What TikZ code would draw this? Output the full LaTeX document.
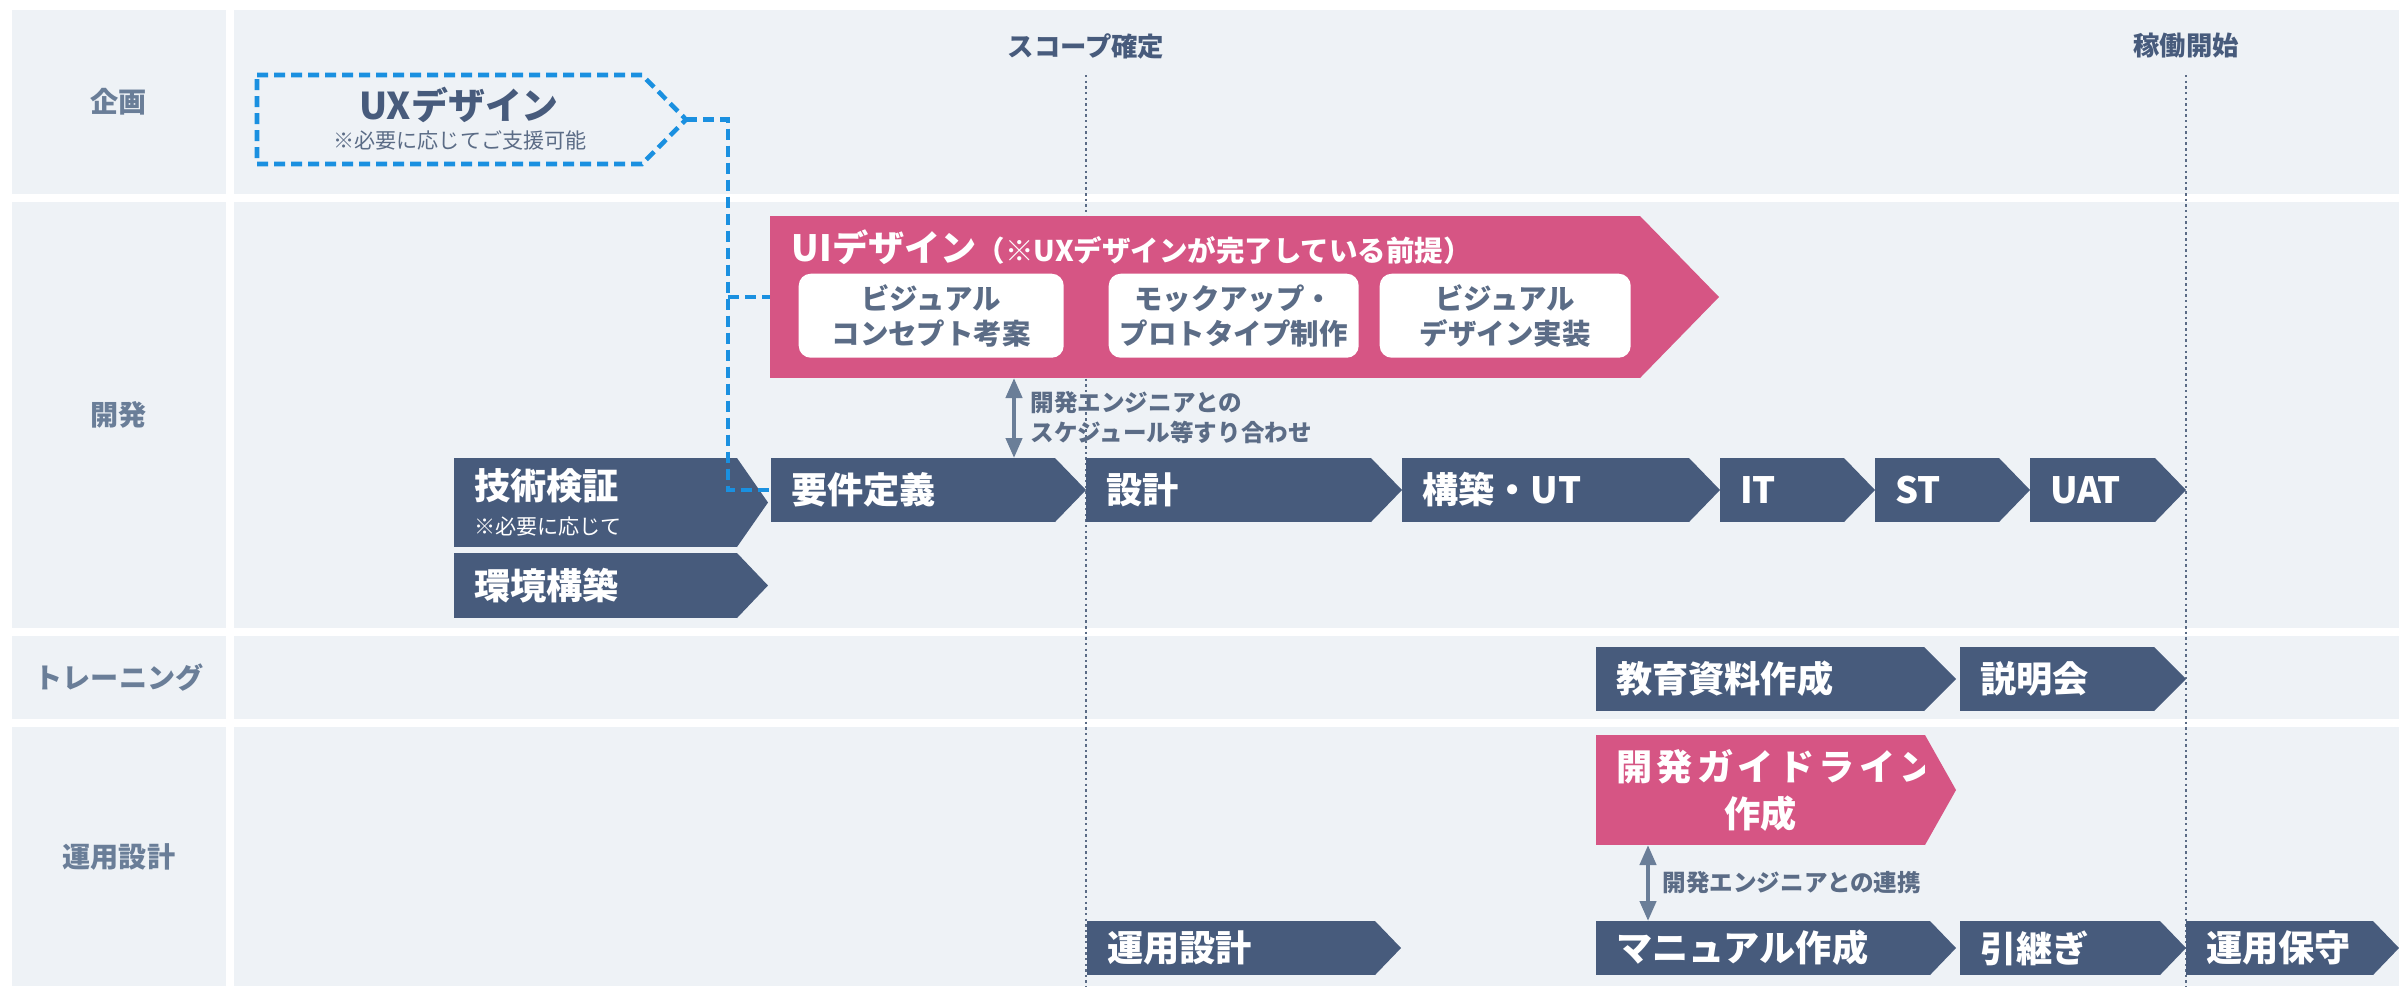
\documentclass[tikz,border=0pt]{standalone}
\usepackage{fontspec}
\setmainfont{Noto Sans CJK JP}
\usetikzlibrary{arrows.meta, positioning, calc}

\definecolor{cellbg}{HTML}{EEF2F6}
\definecolor{navy}{HTML}{475B7C}
\definecolor{rose}{HTML}{D65584}
\definecolor{uxblue}{HTML}{1A90E0}
\definecolor{lanegray}{HTML}{6A7E98}
\definecolor{inkgray}{HTML}{5B6C86}

\newcommand{\fsz}[2]{\fontsize{#1}{#2}\selectfont}

\begin{document}
\begin{tikzpicture}[
    cell/.style={fill=cellbg, anchor=north west, inner sep=0pt, outer sep=0pt},
    lane/.style={cell, minimum width=2.14cm, text=lanegray, font=\bfseries\fsz{8}{10}},
    phase/.style={anchor=north west, fill=navy, text=white, inner xsep=2mm, inner ysep=0pt,
        outer sep=0pt, minimum height=6.4mm, align=left, font=\bfseries\fsz{10.3}{12}},
    opsphase/.style={phase, minimum height=5.4mm},
    sub/.style={fill=white, rounded corners=1.2mm, minimum width=#1, minimum height=8.4mm,
        anchor=north west, inner sep=0pt, text=inkgray, align=center, font=\bfseries\fsz{8.1}{10}},
    milestone/.style={text=navy, font=\bfseries\fsz{7.5}{9}},
    gate/.style={draw=inkgray, line width=0.5pt, dash pattern=on 0.7pt off 0.9pt},
    sync/.style={draw=lanegray, line width=1.2pt,
        {Triangle[length=2mm, width=1.6mm]}-{Triangle[length=2mm, width=1.6mm]}},
    note/.style={anchor=west, inner sep=0pt, text=inkgray, align=left, font=\bfseries\fsz{6.7}{8.3}},
    uxline/.style={draw=uxblue, line width=1.3pt, dash pattern=on 1.1mm off 0.6mm},
]
  \useasboundingbox (0,0) rectangle (23.99,-9.86);
  \fill[white] (0,0) rectangle (23.99,-9.86);
  \coordinate (rim) at (23.99,0);
  \coordinate (floor) at (0,-9.86);

  % lanes
  \node[lane, minimum height=1.84cm] (plan) at (0.12,-0.10) {企画};
  \node[lane, minimum height=4.26cm] (dev) at (0.12,-2.02) {開発};
  \node[lane, minimum height=0.83cm] (train) at (0.12,-6.36) {トレーニング};
  \node[lane, minimum height=2.59cm] (ops) at (0.12,-7.27) {運用設計};
  \foreach \r in {plan, dev, train, ops}
    \fill[cellbg] ([xshift=0.08cm]\r.north east) rectangle (\r.south -| rim);

  % milestones
  \node[milestone] (scope) at (10.86,-0.46) {スコープ確定};
  \node[milestone] (golive) at (21.86,-0.46) {稼働開始};
  \draw[gate] ([yshift=-0.29cm]scope.center) -- (scope |- floor);
  \draw[gate] ([yshift=-0.29cm]golive.center) -- (golive |- floor);

  % UX design
  \node[anchor=north west, minimum width=3.85cm, minimum height=0.89cm, inner sep=0pt, outer sep=0pt] (ux) at (2.57,-0.75) {};
  \draw[uxline] (ux.north west) -- (ux.north east) -- ++(0.44,-0.445) coordinate (uxtip)
    -- (ux.south east) -- (ux.south west) -- cycle;
  \node[text=navy, font=\bfseries\fsz{10.5}{12}] (uxtitle) at (4.59,-1.05) {UXデザイン};
  \node[text=inkgray, font=\fsz{6}{7}] (uxnote) at (4.60,-1.40) {※必要に応じてご支援可能};

  % UI design
  \node[phase, fill=rose, minimum width=8.70cm, minimum height=1.62cm] (ui) at (7.70,-2.16) {};
  \node[anchor=west, text=white, font=\bfseries\fsz{10.3}{12}, inner sep=0pt] (uititle) at (7.91,-2.47)
    {UIデザイン{\fsz{8.1}{9}（※UXデザインが完了している前提）}};
  \node[sub=2.65cm] (concept) at (7.98,-2.73) {ビジュアル\\コンセプト考案};
  \node[sub=2.50cm] (mockup) at (11.08,-2.73) {モックアップ・\\プロトタイプ制作};
  \node[sub=2.51cm] (visual) at (13.79,-2.73) {ビジュアル\\デザイン実装};

  % development
  \node[phase, minimum height=8.9mm, text width=2.43cm] (gijutsu) at (4.54,-4.58)
    {技術検証\\[-2pt]{\mdseries\fsz{6}{7}※必要に応じて}};
  \node[phase, minimum height=6.5mm, text width=2.43cm] (kankyo) at (4.54,-5.53) {環境構築};
  \node[phase, text width=2.44cm] (youken) at (7.71,-4.58) {要件定義};
  \node[phase, text width=2.45cm, right=3.1mm of youken] (sekkei) {設計};
  \node[phase, text width=2.47cm, right=3.1mm of sekkei] (kouchiku) {構築・UT};
  \node[phase, text width=0.84cm, right=3.1mm of kouchiku] (it) {IT};
  \node[phase, text width=0.84cm, right=3.1mm of it] (st) {ST};
  \node[phase, text width=0.85cm, right=3.1mm of st] (uat) {UAT};

  % training
  \node[phase, text width=2.88cm] (kyouiku) at (15.96,-6.47) {教育資料作成};
  \node[phase, text width=1.54cm, right=3.6mm of kyouiku] (setsumei) {説明会};

  % operations
  \node[phase, fill=rose, minimum height=1.10cm, text width=2.89cm, align=center, font=\bfseries\fsz{10.3}{13.4}] (guide) at (15.96,-7.35)
    {{\addfontfeature{LetterSpace=12}開発ガイドライン}\\作成};
  \node[opsphase, text width=2.48cm] (unyou) at (10.87,-9.21) {運用設計};
  \node[opsphase, text width=2.94cm] (manual) at (15.96,-9.21) {マニュアル作成};
  \node[opsphase, text width=1.60cm, right=3.0mm of manual] (hikitsugi) {引継ぎ};
  \node[opsphase, text width=1.47cm, right=2.6mm of hikitsugi] (hoshu) {運用保守};

  \foreach \n/\d/\c in {gijutsu/3.1mm/navy, kankyo/3.1mm/navy, youken/3.1mm/navy, sekkei/3.1mm/navy,
      kouchiku/3.1mm/navy, it/3.1mm/navy, st/3.1mm/navy, uat/3.1mm/navy, kyouiku/3.2mm/navy,
      setsumei/3.2mm/navy, unyou/2.6mm/navy, manual/2.6mm/navy, hikitsugi/2.6mm/navy,
      hoshu/2.6mm/navy, guide/3.1mm/rose, ui/7.9mm/rose}
    \fill[\c] (\n.north east) -- ([xshift=\d]\n.east) -- (\n.south east) -- cycle;

  % hand-offs
  \coordinate (uxbus) at (7.28,0);
  \draw[uxline] (uxtip) -- (uxtip -| uxbus) |- (youken.west);
  \draw[uxline] (uxbus |- ui.west) -- (ui.west);

  \coordinate (syncA) at (10.14,0);
  \draw[sync] (ui.south -| syncA) -- (youken.north -| syncA);
  \node[note] (syncAnote) at (10.30,-4.175) {開発エンジニアとの\\スケジュール等すり合わせ};
  \coordinate (syncB) at (16.48,0);
  \draw[sync] (guide.south -| syncB) -- (manual.north -| syncB);
  \node[note] (syncBnote) at (16.62,-8.83) {開発エンジニアとの連携};
\end{tikzpicture}
\end{document}
